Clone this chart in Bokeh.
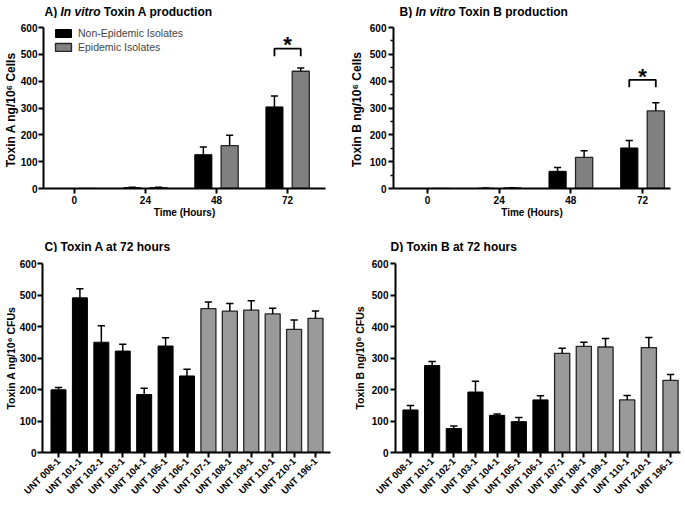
import math
from bokeh.plotting import figure
from bokeh.models import Range1d, Legend, LegendItem, FixedTicker
from bokeh.layouts import column, row
from bokeh.embed import file_html
from bokeh.resources import INLINE
from bokeh.core.properties import value

FONT = "Liberation Sans"

# ---------------- data ----------------
time_labels = ["0", "24", "48", "72"]
toxA_non_mean = [0, 3, 126, 304]
toxA_non_sd = [0, 2, 29, 41]
toxA_epi_mean = [0, 3, 160, 437]
toxA_epi_sd = [0, 2, 38, 12]

toxB_non_mean = [0, 1, 64, 151]
toxB_non_sd = [0, 1, 14, 28]
toxB_epi_mean = [0, 2, 116, 289]
toxB_epi_sd = [0, 1, 25, 31]

isolates = ["UNT 008-1", "UNT 101-1", "UNT 102-1", "UNT 103-1", "UNT 104-1",
            "UNT 105-1", "UNT 106-1", "UNT 107-1", "UNT 108-1", "UNT 109-1",
            "UNT 110-1", "UNT 210-1", "UNT 196-1"]
is_epidemic = [False, False, False, False, False, False, False,
               True, True, True, True, True, True]
toxA72_mean = [199, 491, 350, 322, 184, 338, 243, 457, 449, 452, 440, 391, 426]
toxA72_sd = [7, 29, 52, 22, 20, 26, 21, 21, 24, 30, 18, 30, 23]
toxB72_mean = [135, 276, 76, 192, 118, 98, 167, 315, 337, 335, 167, 333, 229]
toxB72_sd = [14, 13, 8, 34, 4, 13, 13, 16, 13, 27, 14, 32, 19]

y_ticks = [0, 100, 200, 300, 400, 500, 600]
y_minor = [50, 150, 250, 350, 450, 550]

# significance annotations (value units)
sigA_top, sigA_drop, sigA_star = 521, 28, 535
sigB_top, sigB_drop, sigB_star = 405, 28, 419

# ---------------- styles ----------------
BLACK = "#000000"
GRAY_AB = "#808080"
GRAY_CD = "#9a9a9a"
OUTLINE = "#262626"

# Arial/Liberation Sans Bold advance widths (per 1000 em)
W_BOLD = {" ": 278, "A": 722, "B": 722, ")": 333, "I": 278, "n": 611, "v": 556,
          "i": 278, "t": 333, "r": 389, "o": 611}


def tw(s, size):
    return sum(W_BOLD[c] for c in s) * size / 1000.0


def title_fig(width, height):
    p = figure(width=width, height=height, x_range=Range1d(0, width),
               y_range=Range1d(height, 0), x_axis_type=None, y_axis_type=None,
               min_border=0, output_backend="svg", toolbar_location=None)
    p.grid.visible = False
    p.outline_line_color = None
    p.background_fill_color = "white"
    p.border_fill_color = "white"
    return p


def add_text(p, x, y, txt, style="bold", size=12):
    p.text(x=[x], y=[y], text=[txt], text_font=value(FONT), text_font_style=style,
           text_font_size=f"{size}px", text_align="left", text_baseline="alphabetic",
           text_color="black")


def title_invitro(width, height, letter, rest, x0, y0, size=12):
    p = title_fig(width, height)
    add_text(p, x0, y0, letter + ")", "bold", size)
    x1 = x0 + tw(letter + ") ", size)
    add_text(p, x1, y0, "In vitro", "bold italic", size)
    x2 = x1 + tw("In vitro ", size)
    add_text(p, x2, y0, rest, "bold", size)
    return p


def title_plain(width, height, txt, x0, y0, size=12):
    p = title_fig(width, height)
    add_text(p, x0, y0, txt, "bold", size)
    return p


def make_fig(width, height, bl, br, bt, bb, xr, minor=False, tight=False):
    p = figure(width=width, height=height, x_range=Range1d(*xr), y_range=Range1d(0, 600),
               min_border_left=bl, min_border_right=br, min_border_top=bt,
               min_border_bottom=bb, output_backend="svg", toolbar_location=None)
    p.grid.visible = False
    p.outline_line_color = None
    p.background_fill_color = "white"
    p.border_fill_color = "white"
    for ax in (p.xaxis[0], p.yaxis[0]):
        ax.axis_line_width = 2
        ax.axis_line_color = "black"
        ax.major_tick_line_width = 2
        ax.major_tick_out = 5
        ax.major_tick_in = 0
        ax.minor_tick_in = 0
        ax.minor_tick_out = 3
        ax.minor_tick_line_width = 1.5
        ax.major_label_text_font = FONT
        ax.major_label_text_font_style = "bold"
        ax.major_label_text_font_size = "10px"
        ax.major_label_text_color = "black"
        ax.major_label_standoff = 2
        ax.axis_label_text_font = FONT
        ax.axis_label_text_font_style = "bold"
        ax.axis_label_text_color = "black"
    p.yaxis.ticker = FixedTicker(ticks=y_ticks, minor_ticks=y_minor if minor else [])
    if tight:
        p.yaxis.major_label_standoff = 1
        p.yaxis.axis_label_standoff = 0
    else:
        p.yaxis.axis_label_standoff = 3
    return p


def err_bars(p, xs, tops, sds, cap_half, lw=1.5):
    ex = [x for x, s in zip(xs, sds) if s > 0]
    e0 = [t for t, s in zip(tops, sds) if s > 0]
    e1 = [t + s for t, s in zip(tops, sds) if s > 0]
    p.segment(x0=ex, y0=e0, x1=ex, y1=e1, line_color="black", line_width=lw)
    p.segment(x0=[x - cap_half for x in ex], y0=e1, x1=[x + cap_half for x in ex], y1=e1,
              line_color="black", line_width=lw)


def time_panel(width, bl, br, xr, non_m, non_s, epi_m, epi_s, ylabel,
               sig_top, sig_drop, sig_star, minor, legend=False, tight=False):
    H, BT, BB = 202, 9, 32
    FH = H - BT - BB
    p = make_fig(width, H, bl, br, BT, BB, xr, minor=minor, tight=tight)
    off, bw = 0.185, 0.24
    idx = list(range(len(time_labels)))
    xn = [i - off for i in idx]
    xe = [i + off for i in idx]
    r1 = p.vbar(x=xn, top=non_m, width=bw, bottom=0, fill_color=BLACK, line_color=BLACK,
                line_width=1)
    r2 = p.vbar(x=xe, top=epi_m, width=bw, bottom=0, fill_color=GRAY_AB, line_color=OUTLINE,
                line_width=1.3)
    err_bars(p, xn, non_m, non_s, 0.05)
    err_bars(p, xe, epi_m, epi_s, 0.05)
    last = idx[-1]
    bx0, bx1 = last - off, last + off
    p.line(x=[bx0, bx0, bx1, bx1], y=[sig_top - sig_drop, sig_top, sig_top, sig_top - sig_drop],
           line_color="black", line_width=1.8)
    p.text(x=[last], y=[sig_star], text=["*"], text_font=value(FONT), text_font_style="bold",
           text_font_size="22px", text_align="center", text_baseline="alphabetic",
           text_color="black")
    p.xaxis.ticker = FixedTicker(ticks=idx)
    p.xaxis.major_label_overrides = {i: lab for i, lab in zip(idx, time_labels)}
    p.xaxis.axis_label = "Time (Hours)"
    p.xaxis.axis_label_text_font_size = "10px"
    p.xaxis.axis_label_standoff = 0
    p.yaxis.axis_label = ylabel
    p.yaxis.axis_label_text_font_size = "12px"
    if legend:
        lg = Legend(items=[LegendItem(label="Non-Epidemic Isolates", renderers=[r1]),
                           LegendItem(label="Epidemic Isolates", renderers=[r2])],
                    location=(10, FH - 26), orientation="vertical",
                    border_line_color=None, background_fill_alpha=0, padding=0, margin=0,
                    spacing=2, glyph_width=20, glyph_height=10, label_height=12,
                    label_standoff=5, label_text_font=FONT, label_text_font_size="10.5px")
        p.add_layout(lg)
    return p


def iso_panel(width, bl, br, xr, means, sds, ylabel, tight=False):
    H, BT, BB = 251, 11, 45
    p = make_fig(width, H, bl, br, BT, BB, xr, tight=tight)
    idx = list(range(len(isolates)))
    xb = [i for i, e in zip(idx, is_epidemic) if not e]
    mb = [m for m, e in zip(means, is_epidemic) if not e]
    xg = [i for i, e in zip(idx, is_epidemic) if e]
    mg = [m for m, e in zip(means, is_epidemic) if e]
    p.vbar(x=xb, top=mb, width=0.7, bottom=0, fill_color=BLACK, line_color=BLACK, line_width=1)
    p.vbar(x=xg, top=mg, width=0.7, bottom=0, fill_color=GRAY_CD, line_color=OUTLINE,
           line_width=1.3)
    err_bars(p, idx, means, sds, 0.17)
    p.xaxis.ticker = FixedTicker(ticks=idx)
    p.xaxis.major_label_overrides = {i: lab for i, lab in zip(idx, isolates)}
    p.xaxis.major_label_orientation = math.pi / 4
    p.xaxis.major_label_text_font_size = "9.5px"
    p.yaxis.axis_label = ylabel
    p.yaxis.axis_label_text_font_size = "10.5px"
    return p


W1, W2 = 340, 343

tA = title_invitro(W1, 18, "A", "Toxin A production", 44, 11)
tB = title_invitro(W2, 18, "B", "Toxin B production", 59, 11)
pA = time_panel(W1, 41, 15, (-0.433, 3.533), toxA_non_mean, toxA_non_sd, toxA_epi_mean,
                toxA_epi_sd, "Toxin A ng/10\u2076  Cells",
                sigA_top, sigA_drop, sigA_star, minor=False, legend=True, tight=True)
pB = time_panel(W2, 53, 13, (-0.474, 3.39), toxB_non_mean, toxB_non_sd, toxB_epi_mean,
                toxB_epi_sd, "Toxin B ng/10\u2076  Cells",
                sigB_top, sigB_drop, sigB_star, minor=True)
tC = title_plain(W1, 32, "C) Toxin A at 72 hours", 44, 26)
tD = title_plain(W2, 32, "D) Toxin B at 72 hours", 50, 26)
pC = iso_panel(W1, 42, 10, (-0.747, 12.70), toxA72_mean, toxA72_sd,
               "Toxin A ng/10\u2076 CFUs", tight=True)
pD = iso_panel(W2, 55, 3, (-0.69, 12.46), toxB72_mean, toxB72_sd, "Toxin B ng/10\u2076 CFUs")

layout = column(row(tA, tB), row(pA, pB), row(tC, tD), row(pC, pD))
open("out.html", "w").write(file_html(layout, INLINE))
